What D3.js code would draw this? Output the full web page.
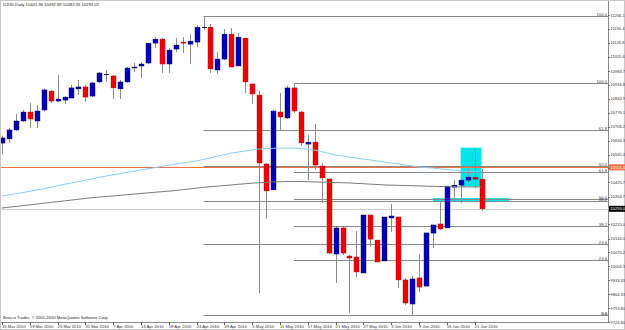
<!DOCTYPE html>
<html>
<head>
<meta charset="utf-8">
<script src="https://cdn.jsdelivr.net/npm/d3@7"></script>
<style>
  body { margin: 0; background: #fff; }
  svg { display: block; font-family: "Liberation Sans", Arial, sans-serif; }
</style>
</head>
<body>
<div id="chart"></div>
<script>
// Daily bars, 15 Mar 2010 .. 22 Jun 2010
const dates = ["2010-03-15","2010-03-16","2010-03-17","2010-03-18","2010-03-19","2010-03-22","2010-03-23","2010-03-24","2010-03-25","2010-03-26",
  "2010-03-29","2010-03-30","2010-03-31","2010-04-01","2010-04-05","2010-04-06","2010-04-07","2010-04-08","2010-04-09","2010-04-12",
  "2010-04-13","2010-04-14","2010-04-15","2010-04-16","2010-04-19","2010-04-20","2010-04-21","2010-04-22","2010-04-23","2010-04-26",
  "2010-04-27","2010-04-28","2010-04-29","2010-04-30","2010-05-03","2010-05-04","2010-05-05","2010-05-06","2010-05-07","2010-05-10",
  "2010-05-11","2010-05-12","2010-05-13","2010-05-14","2010-05-17","2010-05-18","2010-05-19","2010-05-20","2010-05-21","2010-05-24",
  "2010-05-25","2010-05-26","2010-05-27","2010-05-28","2010-06-01","2010-06-02","2010-06-03","2010-06-04","2010-06-07","2010-06-08",
  "2010-06-09","2010-06-10","2010-06-11","2010-06-14","2010-06-15","2010-06-16","2010-06-17","2010-06-18","2010-06-21","2010-06-22"];
// empty slots to the right of the last bar (chart shift)
const futureDates = ["2010-06-23","2010-06-24","2010-06-25","2010-06-28","2010-06-29"];

const opens = [10623,10644,10689,10734,10779,10734,10789,10884,10834,10839,
  10849,10895,10905,10859,10930,10970,10960,10895,10930,11000,
  11010,11025,11125,11145,11020,11095,11130,11120,11130,11205,
  11205,10990,11045,11170,11010,11150,10920,10864,10518,10388,
  10779,10749,10900,10779,10618,10628,10508,10443,10066,10197,
  10056,10051,9971,10262,10136,10031,10247,10252,9936,9815,
  9946,9905,10171,10217,10197,10402,10412,10437,10452,10441.96];
const highs = [10660,10699,10769,10789,10824,10814,10895,10890,10965,10859,
  10915,10940,10915,10930,10980,10990,10965,10940,11005,11025,
  11030,11125,11155,11150,11100,11150,11155,11170,11216,11260,
  11221,11080,11195,11200,11175,11150,10920,10885,10523,10790,
  10874,10910,10925,10784,10663,10719,10523,10443,10202,10202,
  10061,10181,10262,10262,10136,10252,10317,10252,9945,9956,
  10066,10172,10212,10327,10407,10437,10447,10493,10594,10492.89];
const lows = [10565,10624,10684,10729,10699,10699,10784,10824,10829,10819,
  10849,10865,10829,10854,10925,10930,10844,10844,10925,10980,
  10950,11020,11100,10975,10975,11080,11075,11020,11105,11191,
  10975,10970,11040,11005,11010,10875,10820,9870,10242,10388,
  10689,10744,10774,10610,10437,10488,10322,10066,9921,10061,
  9770,9950,9971,10101,10026,10031,10177,9895,9810,9760,
  9875,9905,10096,10187,10197,10327,10322,10427,10397,10283.55];
const closes = [10649,10689,10734,10779,10744,10784,10890,10834,10844,10854,
  10900,10905,10854,10925,10975,10970,10900,10930,11000,11005,
  11020,11125,11145,11020,11090,11115,11125,11135,11205,11205,
  10995,11045,11170,11005,11155,10930,10870,10523,10383,10784,
  10754,10900,10784,10624,10628,10513,10448,10071,10197,10071,
  10046,9976,10262,10141,10026,10252,10257,9936,9820,9941,
  9900,10172,10212,10192,10407,10412,10437,10452,10442,10293.02];

// moving averages (light blue and grey)
const maBlue = [10357,10363,10369,10375,10381,10387,10394,10401,10409,10416,
  10423,10430,10437,10444,10451,10458,10464,10470,10476,10482,
  10488,10494,10500,10506,10512,10518,10523,10528,10533,10541,
  10549,10557,10565,10573,10578,10583,10588,10593,10595,10597,
  10598,10598,10598,10595,10592,10588,10580,10572,10563,10558,
  10553,10548,10543,10538,10533,10528,10523,10518,10513,10508,
  10503,10500,10498,10494,10490,10487,10483,10481,10479,10478];
const maGrey = [10297,10301,10305,10309,10313,10317,10321,10325,10329,10333,
  10337,10341,10345,10349,10352,10355,10358,10361,10364,10367,
  10370,10373,10376,10379,10382,10385,10389,10393,10397,10401,
  10404,10407,10410,10413,10416,10419,10422,10424,10426,10428,
  10429,10430,10430,10430,10429,10428,10427,10426,10425,10424,
  10423,10421,10419,10417,10415,10413,10412,10411,10410,10409,
  10408,10407,10406,10405,10404,10404,10403,10403,10403,10403];

// axis labels
const dateLabels = ["15 Mar 2010","19 Mar 2010","25 Mar 2010","31 Mar 2010","7 Apr 2010","13 Apr 2010","19 Apr 2010","23 Apr 2010","29 Apr 2010",
  "5 May 2010","11 May 2010","17 May 2010","21 May 2010","27 May 2010","3 Jun 2010","9 Jun 2010","15 Jun 2010","21 Jun 2010"];
const dateLabelEvery = 4;
const priceTicks = [11266.10,11196.40,11126.60,11055.60,10984.70,10916.80,10844.90,10776.10,10706.20,10634.30,10565.40,10495.60,
  10425.70,10354.70,10283.80,10215.00,10144.00,10075.20,10004.30,9933.33,9864.33,9793.80,9724.80];

// fibonacci retracements: [anchor date, high, low]
const fibLevels = [0, 23.6, 38.2, 50, 61.8, 100];
const fibA = ["2010-04-26", 11260, 9760];
const fibB = ["2010-05-13", 10925, 9760];

// other objects
const hLinePrice = 10501.40;               // orange horizontal line
const boxTime = ["2010-06-17", "2010-06-22"]; // cyan rectangle
const boxPrice = [10405, 10600];
const bandTime = ["2010-06-11", "2010-06-28"]; // cyan band
const bandPrice = [10327, 10347];

const header = "DJI30,Daily  10441.96 10492.89 10283.55 10293.02";
const footer = "Brocco Trader, \u00a9 2001-2010 MetaQuotes Software Corp.";

// ---- drawing ----
const width = 625, height = 330;
const plotRight = 608, plotBottom = 322;

const allDates = dates.concat(futureDates);
const idx = d => allDates.indexOf(d);

const x = d3.scaleLinear().domain([0, 87.2]).range([2, plotRight]);
const y = d3.scaleLinear().domain([9724.8, 11266.1]).range([plotBottom, 15]);

// the price column is narrow, only 7 characters fit
const fmt = v => v.toFixed(2).slice(0, 7);

const svg = d3.select("#chart")
  .append("svg")
  .attr("width", width)
  .attr("height", height);

svg.append("rect").attr("width", width).attr("height", height).attr("fill", "#fff");

svg.append("clipPath").attr("id", "plot")
  .append("rect").attr("x", 0).attr("y", 0).attr("width", plotRight).attr("height", plotBottom);

const plot = svg.append("g").attr("clip-path", "url(#plot)");

const px = v => Math.round(v) + 0.5;

// cyan objects (background)
plot.append("rect")
  .attr("x", x(idx(bandTime[0])))
  .attr("y", y(bandPrice[1]))
  .attr("width", x(idx(bandTime[1])) - x(idx(bandTime[0])))
  .attr("height", y(bandPrice[0]) - y(bandPrice[1]))
  .attr("fill", "#00e4ea");

plot.append("rect")
  .attr("x", x(idx(boxTime[0])))
  .attr("y", y(boxPrice[1]))
  .attr("width", x(idx(boxTime[1])) - x(idx(boxTime[0])))
  .attr("height", y(boxPrice[0]) - y(boxPrice[1]))
  .attr("fill", "#00e4ea");

// fibonacci lines
[fibA, fibB].forEach(f => {
  const x0 = x(idx(f[0]));
  fibLevels.forEach(l => {
    const p = f[2] + (f[1] - f[2]) * l / 100;
    plot.append("line")
      .attr("x1", x0).attr("x2", plotRight)
      .attr("y1", px(y(p))).attr("y2", px(y(p)))
      .attr("stroke", "#8a8a8a").attr("stroke-width", 1);
    svg.append("text")
      .attr("x", plotRight - 1).attr("y", px(y(p)) - 1)
      .attr("text-anchor", "end")
      .attr("font-size", 4.2).attr("fill", "#444")
      .text(l.toFixed(1));
  });
});

// bid line and orange line
plot.append("line")
  .attr("x1", 0).attr("x2", plotRight)
  .attr("y1", px(y(closes[closes.length - 1]))).attr("y2", px(y(closes[closes.length - 1])))
  .attr("stroke", "#d0d0d0");
plot.append("line")
  .attr("x1", 0).attr("x2", plotRight)
  .attr("y1", px(y(hLinePrice))).attr("y2", px(y(hLinePrice)))
  .attr("stroke", "#f07040").attr("stroke-width", 1.2);

// candles
const bars = dates.map((d, i) => ({i, o: opens[i], h: highs[i], l: lows[i], c: closes[i]}));

plot.selectAll(".wick")
  .data(bars)
  .enter()
  .append("line")
  .attr("x1", d => px(x(d.i))).attr("x2", d => px(x(d.i)))
  .attr("y1", d => y(d.h)).attr("y2", d => y(d.l))
  .attr("stroke", "#8c8c8c");

plot.selectAll(".body")
  .data(bars.filter(d => d.o !== d.c))
  .enter()
  .append("rect")
  .attr("x", d => Math.round(x(d.i)) - 2)
  .attr("width", 5)
  .attr("y", d => y(Math.max(d.o, d.c)))
  .attr("height", d => Math.max(1, Math.abs(y(d.o) - y(d.c))))
  .attr("fill", d => d.c > d.o ? "#0000b4" : "#f00000")
  .attr("stroke", d => d.c > d.o ? "#00006a" : "#a00000")
  .attr("stroke-width", 0.4);

plot.selectAll(".doji")
  .data(bars.filter(d => d.o === d.c))
  .enter()
  .append("line")
  .attr("x1", d => Math.round(x(d.i)) - 2).attr("x2", d => Math.round(x(d.i)) + 3)
  .attr("y1", d => px(y(d.o))).attr("y2", d => px(y(d.o)))
  .attr("stroke", "#222");

// moving averages
const line = arr => d3.line().x((d, i) => x(i)).y(d => y(d))(arr);
plot.append("path").attr("d", line(maGrey)).attr("fill", "none").attr("stroke", "#7a7a7a").attr("stroke-width", 1);
plot.append("path").attr("d", line(maBlue)).attr("fill", "none").attr("stroke", "#87cefa").attr("stroke-width", 1);

// frame
svg.append("rect")
  .attr("x", 0.5).attr("y", 0.5)
  .attr("width", plotRight).attr("height", plotBottom)
  .attr("fill", "none").attr("stroke", "#8a8a8a");
svg.append("rect")
  .attr("x", 0.5).attr("y", 0.5)
  .attr("width", width - 1).attr("height", height - 1)
  .attr("fill", "none").attr("stroke", "#c8c8c8");

// price axis
const lastClose = closes[closes.length - 1];
priceTicks.forEach(v => {
  if (Math.abs(y(v) - y(lastClose)) < 6) return;
  svg.append("line")
    .attr("x1", plotRight).attr("x2", plotRight + 2)
    .attr("y1", px(y(v))).attr("y2", px(y(v)))
    .attr("stroke", "#666");
  svg.append("text")
    .attr("x", plotRight + 2.5).attr("y", y(v) + 1.5)
    .attr("font-size", 4).attr("fill", "#333")
    .text(fmt(v));
});

function priceTag(v, fill) {
  svg.append("rect")
    .attr("x", plotRight + 1).attr("y", y(v) - 3)
    .attr("width", width - plotRight - 1).attr("height", 6)
    .attr("fill", fill);
  svg.append("text")
    .attr("x", plotRight + 2.5).attr("y", y(v) + 1.5)
    .attr("font-size", 4).attr("fill", "#fff")
    .text(fmt(v));
}
priceTag(hLinePrice, "#f07040");
priceTag(lastClose, "#000");

// date axis
dateLabels.forEach((t, k) => {
  const xi = x(k * dateLabelEvery);
  svg.append("line")
    .attr("x1", px(xi)).attr("x2", px(xi))
    .attr("y1", plotBottom).attr("y2", plotBottom + 3)
    .attr("stroke", "#666");
  svg.append("text")
    .attr("x", xi).attr("y", 328)
    .attr("font-size", 4.2).attr("fill", "#333")
    .text(t);
});

svg.append("text").attr("x", 3).attr("y", 6).attr("font-size", 4.2).attr("fill", "#222").text(header);
svg.append("text").attr("x", 3).attr("y", 319).attr("font-size", 4.2).attr("fill", "#222").text(footer);
</script>
</body>
</html>
